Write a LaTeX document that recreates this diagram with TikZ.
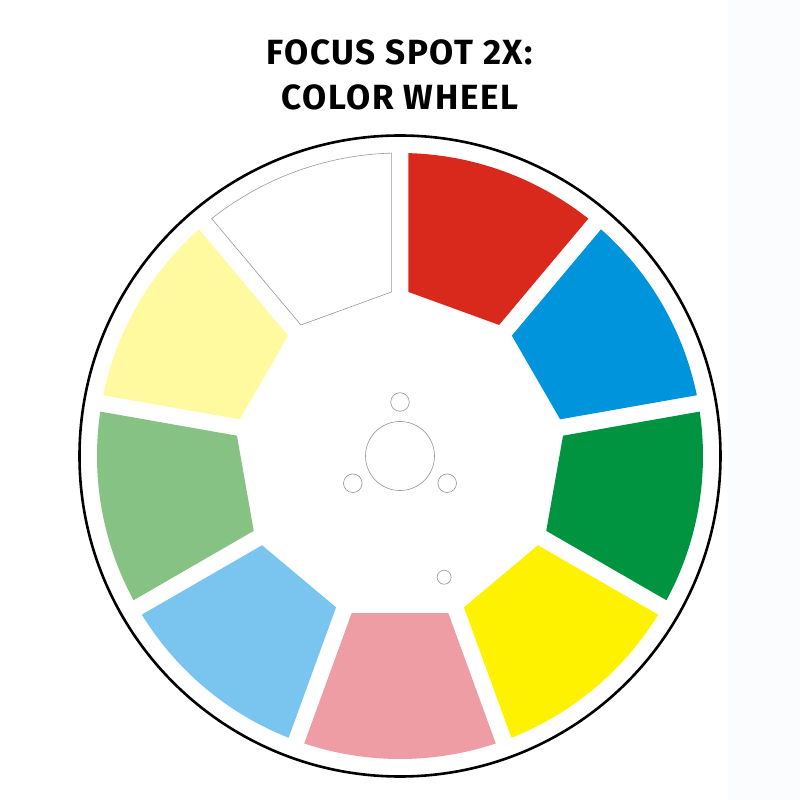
\documentclass[tikz,border=0pt]{standalone}
\usepackage{fontspec}
\setsansfont{Fira Sans}[LetterSpace=4.5]
\definecolor{wheelred}{HTML}{D9291C}
\definecolor{wheelblue}{HTML}{0094DC}
\definecolor{wheeldgreen}{HTML}{009340}
\definecolor{wheelyellow}{HTML}{FFF200}
\definecolor{wheelpink}{HTML}{ED9DA3}
\definecolor{wheellblue}{HTML}{7AC5EF}
\definecolor{wheellgreen}{HTML}{86C283}
\definecolor{wheelpyellow}{HTML}{FFF9A0}
\definecolor{panel}{HTML}{FBFCFE}
\begin{document}
\begin{tikzpicture}[x=1pt,y=1pt,
  title/.style={anchor=base,inner sep=0pt,font=\fontsize{35}{35}\selectfont\sffamily\bfseries},
  hole/.style={draw=gray!85,line width=.6pt},
  rim/.style={draw=black,line width=2.6pt}]

\useasboundingbox (-400,-344) rectangle (400,456);
\fill[panel] (328,-344) rectangle (400,456);

\draw (0,391) node(LINEONE)[title]{FOCUS SPOT 2X:};
\draw (0,346) node(LINETWO)[title]{COLOR WHEEL};

% filters
\fill[wheelred,rotate=70] (-17.1:164.3) -- (-18.43:303) arc[start angle=-18.43,end angle=18.43,radius=303] -- (17.1:164.3) -- cycle;
\fill[wheelblue,rotate=30] (-17.1:164.3) -- (-18.43:303) arc[start angle=-18.43,end angle=18.43,radius=303] -- (17.1:164.3) -- cycle;
\fill[wheeldgreen,rotate=-10] (-17.1:164.3) -- (-18.43:303) arc[start angle=-18.43,end angle=18.43,radius=303] -- (17.1:164.3) -- cycle;
\fill[wheelyellow,rotate=-50] (-17.1:164.3) -- (-18.43:303) arc[start angle=-18.43,end angle=18.43,radius=303] -- (17.1:164.3) -- cycle;
\fill[wheelpink,rotate=-90] (-17.1:164.3) -- (-18.43:303) arc[start angle=-18.43,end angle=18.43,radius=303] -- (17.1:164.3) -- cycle;
\fill[wheellblue,rotate=-130] (-17.1:164.3) -- (-18.43:303) arc[start angle=-18.43,end angle=18.43,radius=303] -- (17.1:164.3) -- cycle;
\fill[wheellgreen,rotate=-170] (-17.1:164.3) -- (-18.43:303) arc[start angle=-18.43,end angle=18.43,radius=303] -- (17.1:164.3) -- cycle;
\fill[wheelpyellow,rotate=150] (-17.1:164.3) -- (-18.43:303) arc[start angle=-18.43,end angle=18.43,radius=303] -- (17.1:164.3) -- cycle;
\draw[fill=white,draw=gray!80,line width=.6pt,rotate=110] (-17.1:164.3) -- (-18.43:303) arc[start angle=-18.43,end angle=18.43,radius=303] -- (17.1:164.3) -- cycle;

% hub
\draw[hole] (0,0) circle (34.5);
\draw[hole] (90:54) circle (9.3);
\draw[hole] (210:54.5) circle (9.3);
\draw[hole] (-30:54.5) circle (9.3);
\draw[hole] (-70:129) circle (7);

\draw[rim] (0,0) circle (320.5);

\end{tikzpicture}
\end{document}
